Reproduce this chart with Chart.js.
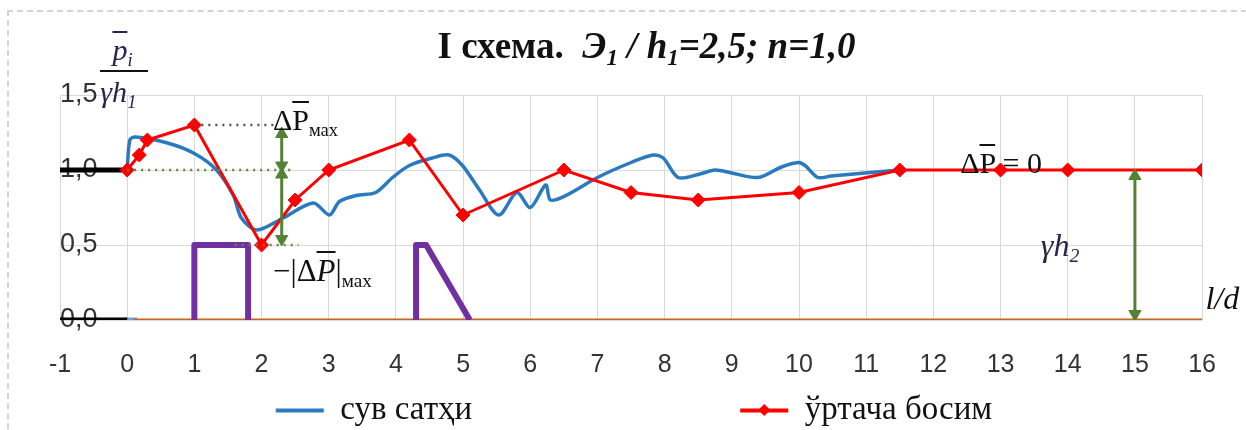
<!DOCTYPE html>
<html>
<head>
<meta charset="utf-8">
<script src="https://cdn.jsdelivr.net/npm/chart.js@4.4.0/dist/chart.umd.min.js"></script>
<style>
  body { margin: 0; background: #fff; overflow: hidden; }
  #wrap { position: relative; width: 1246px; height: 430px; overflow: hidden; }
  #frame { position: absolute; left: 7px; top: 10px; width: 1300px; height: 500px;
           border: 2px dashed #d4d4d4; box-sizing: border-box; }
  canvas { position: absolute; left: 0; top: 0; }
  .lbl { position: absolute; white-space: nowrap; font-family: "Liberation Serif", serif; line-height: 1; color: #111; }
  .ov { text-decoration: overline; text-decoration-thickness: 2px; }
  sub { font-size: 0.62em; vertical-align: -0.3em; line-height: 0; }
</style>
</head>
<body>
<div id="wrap">
  <div id="frame"></div>
  <canvas id="chart" width="1246" height="430"></canvas>

  <div id="title" class="lbl" style="font-size:37px;font-weight:bold;transform:translateX(-50%)">
    I схема.&nbsp;&nbsp;<i>Э<sub>1</sub> / h<sub>1</sub>=2,5; n=1,0</i>
  </div>
  <div id="yNum" class="lbl" style="font-size:30px;font-style:italic;color:#2a2250"><span class="ov">p</span><sub>i</sub></div>
  <div id="yBar" style="position:absolute;height:2px;width:48px;background:#111"></div>
  <div id="yDen" class="lbl" style="font-size:30px;font-style:italic;color:#2a2250">γh<sub>1</sub></div>

  <div id="aMax" class="lbl" style="font-size:30px">Δ<span class="ov">P</span><sub>мах</sub></div>
  <div id="aMin" class="lbl" style="font-size:31px">−|Δ<i class="ov">P</i>|<sub>мах</sub></div>
  <div id="aZero" class="lbl" style="font-size:30px">Δ<span class="ov">P</span> = 0</div>
  <div id="aH2" class="lbl" style="font-size:32px;font-style:italic;color:#2a2250">γh<sub>2</sub></div>
  <div id="aLd" class="lbl" style="font-size:32px;font-style:italic">l/d</div>
</div>

<script>
// water level (сув сатҳи)
var waterX = [0, 0.04, 0.12, 0.6, 1.0, 1.33, 1.58, 1.7, 1.93, 2.32, 2.77, 3.01, 3.16, 3.41, 3.7, 3.95,
              4.2, 4.54, 4.79, 4.99, 5.24, 5.53, 5.8, 6.0, 6.23, 6.3, 6.53, 7.0, 7.5, 7.83, 7.98, 8.2,
              8.5, 8.75, 9.0, 9.39, 9.74, 9.99, 10.09, 10.28, 10.48, 10.98, 11.5];
var waterY = [1.0, 1.2, 1.22, 1.18, 1.11, 1.0, 0.83, 0.68, 0.6, 0.68, 0.78, 0.7, 0.79, 0.83, 0.85, 0.95,
              1.03, 1.08, 1.1, 1.03, 0.87, 0.7, 0.85, 0.75, 0.9, 0.8, 0.83, 0.95, 1.05, 1.1, 1.08, 0.95,
              0.97, 1.0, 0.98, 0.95, 1.02, 1.05, 1.03, 0.95, 0.96, 0.98, 1.0];

// mean pressure (ўртача босим)
var pressX = [0, 0.18, 0.3, 1, 2, 2.5, 3, 4.2, 5, 6.5, 7.5, 8.5, 10, 11.5, 13, 14, 16];
var pressY = [1.0, 1.1, 1.2, 1.3, 0.5, 0.8, 1.0, 1.2, 0.7, 1.0, 0.85, 0.8, 0.85, 1.0, 1.0, 1.0, 1.0];

// structure outlines (purple)
var structX = [1, 1, 1.8, 1.8, null, 4.3, 4.3, 4.45, 5.1];
var structY = [0, 0.5, 0.5, 0, null, 0, 0.5, 0.5, 0];

// bed line and the short black pieces left of zero
var bedX = [0.1, 16];
var bedY = [0, 0];
var blackX = [-1, 0, null, -1, 0];
var blackY = [1, 1, null, 0, 0];
var blueStubX = [-0.05, 0.15];
var blueStubY = [0, 0];

// helper lines: dotted guides and double arrows
var guideMaxX = [1, 2.2];
var guideMaxY = [1.3, 1.3];
var guideOneX = [0, 2.45];
var guideOneY = [1.0, 1.0];
var guideHalfX = [1.6, 2.55];
var guideHalfY = [0.5, 0.5];
var arrowAX = [2.3, 2.3];
var arrowAY = [1.24, 1.03];
var arrowBX = [2.3, 2.3];
var arrowBY = [0.97, 0.54];
var arrowCX = [15, 15];
var arrowCY = [0.96, 0.04];

var yTickLabels = ["0,0", "0,5", "1,0", "1,5"];

function pts(xs, ys) {
    return xs.map(function (x, i) {
        return x === null ? {x: null, y: null} : {x: x, y: ys[i]};
    });
}

function guide(xs, ys, color) {
    return {data: pts(xs, ys), showLine: true, borderColor: color, borderWidth: 2.5,
            borderDash: [2, 5], pointRadius: 0, order: 1};
}

function arrow(xs, ys) {
    return {data: pts(xs, ys), showLine: true, borderColor: "#548235", backgroundColor: "#548235",
            borderWidth: 3, pointStyle: "triangle", pointRadius: 7, pointRotation: [0, 180],
            pointBorderWidth: 1, order: 0};
}

var legendDiamond = {
    id: "legendDiamond",
    afterDraw: function (chart) {
        var hb = chart.legend.legendHitBoxes[1];
        if (!hb) return;
        var ctx = chart.ctx;
        var cx = hb.left + 24, cy = hb.top + 16, r = 6;
        ctx.save();
        ctx.fillStyle = "#ff0000";
        ctx.beginPath();
        ctx.moveTo(cx, cy - r); ctx.lineTo(cx + r, cy); ctx.lineTo(cx, cy + r); ctx.lineTo(cx - r, cy);
        ctx.closePath();
        ctx.fill();
        ctx.restore();
    }
};

var chart = new Chart(document.getElementById("chart").getContext("2d"), {
    type: "scatter",
    data: {
        datasets: [
            {label: "сув сатҳи", data: pts(waterX, waterY), showLine: true, borderColor: "#2a7abf",
             backgroundColor: "#2a7abf", borderWidth: 3.5, tension: 0.3, pointRadius: 0, order: 3},
            {label: "ўртача босим", data: pts(pressX, pressY), showLine: true, borderColor: "#ff0000",
             backgroundColor: "#ff0000", borderWidth: 3, pointStyle: "rectRot", pointRadius: 7,
             pointBorderWidth: 1, order: 2},
            {label: "struct", data: pts(structX, structY), showLine: true, borderColor: "#7030a0",
             borderWidth: 6, borderJoinStyle: "round", pointRadius: 0, order: 4},
            {label: "bed", data: pts(bedX, bedY), showLine: true, borderColor: "#c5651e",
             borderWidth: 3, pointRadius: 0, order: 5},
            {label: "stub", data: pts(blueStubX, blueStubY), showLine: true, borderColor: "#6a9fd8",
             borderWidth: 5, pointRadius: 0, order: 7},
            {label: "black", data: pts(blackX, blackY), showLine: true, borderColor: "#000",
             borderWidth: 5, pointRadius: 0, order: 6},
            Object.assign({label: "g1"}, guide(guideMaxX, guideMaxY, "#44546a")),
            Object.assign({label: "g2"}, guide(guideOneX, guideOneY, "#5e8a3a")),
            Object.assign({label: "g3"}, guide(guideHalfX, guideHalfY, "#5e8a3a")),
            Object.assign({label: "a1"}, arrow(arrowAX, arrowAY)),
            Object.assign({label: "a2"}, arrow(arrowBX, arrowBY)),
            Object.assign({label: "a3"}, arrow(arrowCX, arrowCY))
        ]
    },
    options: {
        responsive: false,
        animation: false,
        layout: {padding: {left: 60, right: 38, top: 95, bottom: 0}},
        plugins: {
            tooltip: {enabled: false},
            legend: {
                position: "bottom",
                maxHeight: 40,
                labels: {
                    boxWidth: 48,
                    boxHeight: 4,
                    padding: 4,
                    color: "#111",
                    font: {family: "Liberation Serif", size: 33},
                    generateLabels: function (chart) {
                        var items = Chart.defaults.plugins.legend.labels.generateLabels(chart);
                        return items.filter(function (it) { return it.datasetIndex < 2; })
                            .sort(function (a, b) { return a.datasetIndex - b.datasetIndex; })
                            .map(function (it) {
                                it.lineWidth = 0;
                                it.fillStyle = it.strokeStyle;
                                if (it.datasetIndex === 0) it.text = it.text + "\u00a0".repeat(32);
                                return it;
                            });
                    }
                }
            }
        },
        scales: {
            x: {
                type: "linear", min: -1, max: 16,
                ticks: {stepSize: 1, autoSkip: false, maxRotation: 0, padding: 30, color: "#333",
                        font: {family: "Liberation Sans", size: 25}},
                grid: {color: "#d9d9d9", drawTicks: false},
                border: {display: false},
                afterFit: function (s) { s.height = 70; }
            },
            y: {
                min: 0, max: 1.5,
                ticks: {stepSize: 0.5, mirror: true, padding: 0, color: "#333",
                        font: {family: "Liberation Sans", size: 27},
                        callback: function (v, i) { return yTickLabels[i]; }},
                grid: {color: "#d9d9d9", drawTicks: false},
                border: {display: false},
                afterFit: function (s) { s.width = 0; }
            }
        }
    },
    plugins: [legendDiamond]
});

function put(id, xv, yv, dx, dy) {
    var el = document.getElementById(id);
    el.style.left = (chart.scales.x.getPixelForValue(xv) + dx) + "px";
    el.style.top = (chart.scales.y.getPixelForValue(yv) + dy) + "px";
}
put("title", 7.73, 1.5, 0, -68);
put("yNum", -0.22, 1.5, 0, -60);
put("yBar", -0.4, 1.5, 0, -25);
put("yDen", -0.4, 1.5, 0, -18);
put("aMax", 2.17, 1.3, 0, -20);
put("aMin", 2.17, 0.5, 0, 10);
put("aZero", 12.4, 1.0, 0, -22);
put("aH2", 13.6, 0.5, 0, -16);
put("aLd", 16.05, 0, 0, -38);
</script>
</body>
</html>
